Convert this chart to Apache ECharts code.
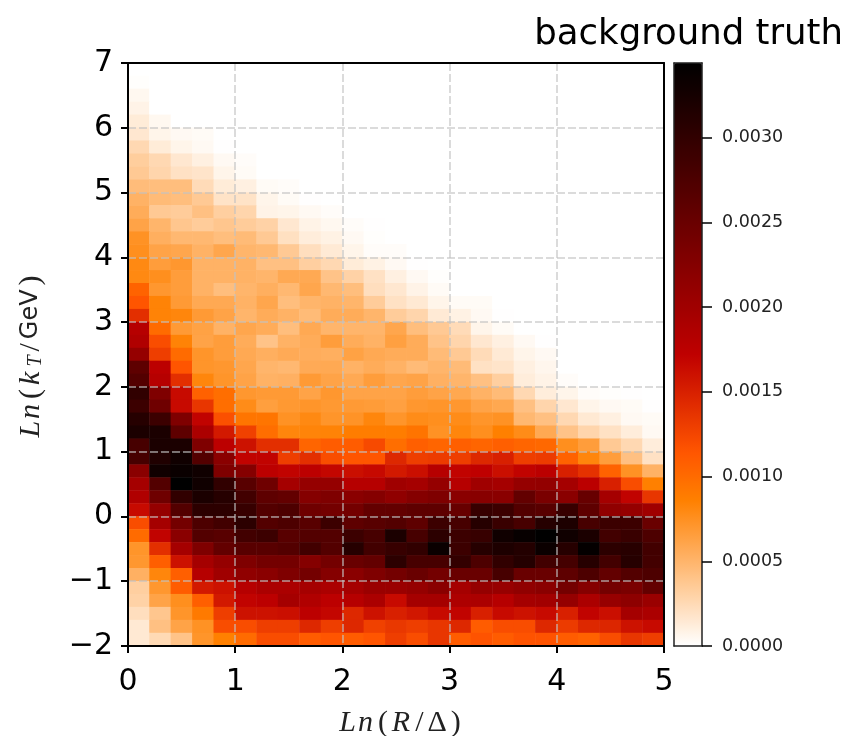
<!DOCTYPE html>
<html>
<head>
<meta charset="utf-8">
<style>html,body{margin:0;padding:0;background:#fff}#c{width:845px;height:736px}</style>
<script src="https://cdn.jsdelivr.net/npm/echarts@6/dist/echarts.min.js"></script>
</head>
<body>
<div id="c"></div>
<script>
const xBins = ['0.0','0.2','0.4','0.6','0.8','1.0','1.2','1.4','1.6','1.8','2.0','2.2','2.4','2.6','2.8','3.0','3.2','3.4','3.6','3.8','4.0','4.2','4.4','4.6','4.8'];
const yBinsTopDown = ['6.8','6.6','6.4','6.2','6.0','5.8','5.6','5.4','5.2','5.0','4.8','4.6','4.4','4.2','4.0','3.8','3.6','3.4','3.2','3.0','2.8','2.6','2.4','2.2','2.0','1.8','1.6','1.4','1.2','1.0','0.8','0.6','0.4','0.2','0.0','-0.2','-0.4','-0.6','-0.8','-1.0','-1.2','-1.4','-1.6','-1.8','-2.0'];
const xTicks = [0,1,2,3,4,5];
const yTicks = [-2,-1,0,1,2,3,4,5,6,7];
const barTicks = [0,0.0005,0.001,0.0015,0.002,0.0025,0.003];
const barMax = 0.00344;
const titleText = 'background truth';
// density per cell, in units of 1e-4; each row runs left to right, rows run top to bottom; omitted cells are empty
const density = [
[],
[0.1],
[0.5],
[0.8],
[1.3,0.5],
[1.6,0.7,0.4,0.3],
[2.6,1.3,0.7,0.4,0.05],
[3.3,2.6,1.6,1.0,0.4,0.2],
[3.6,2.8,2.0,1.8,0.7,0.3],
[4.5,4.4,4.4,2.4,1.3,1.0,0.3,0.2],
[5.2,4.6,4.4,3.6,1.9,1.9,0.7,0.3,0.05],
[5.6,3.6,3.4,4.2,3.2,2.8,0.8,0.7,0.4,0.2],
[6.2,5.0,3.8,3.4,3.8,3.4,3.0,1.6,0.8,0.5,0.2,0.05],
[7.4,5.4,4.8,4.8,4.4,4.6,3.6,2.1,1.2,0.9,0.4,0.1],
[7.6,6.2,6.0,5.2,6.0,5.0,4.8,3.6,2.2,1.4,0.7,0.2,0.2],
[8.0,6.6,7.0,5.2,5.2,5.2,4.2,4.2,3.2,2.6,1.3,0.9,0.4,0.05],
[8.0,7.6,6.6,5.2,5.2,5.2,5.0,5.8,5.8,4.0,3.0,2.0,1.0,0.4,0.1],
[10.5,7.0,6.6,5.2,4.4,5.0,5.4,4.8,6.0,4.8,4.4,2.2,1.6,0.8,0.3],
[11.5,8.4,6.8,5.8,5.8,5.2,6.0,4.4,5.0,5.2,5.0,3.4,2.0,1.5,0.7,0.3,0.3],
[14,8.4,8.2,6.8,6.2,5.0,5.6,5.2,4.6,5.6,5.6,5.0,3.4,2.8,1.4,0.9,0.4,0.05],
[18,10,6.8,6.3,5.2,6.0,5.6,4.4,5.8,5.0,5.0,5.0,6.0,4.4,3.6,2.4,0.7,0.3],
[18.5,12,8.4,6.2,6.6,5.6,4.0,5.2,5.6,6.6,5.6,5.2,6.4,5.6,4.0,2.8,1.6,1.0,0.4,0.05],
[21,13,10,7.2,6.6,5.8,5.4,5.7,5.5,5.4,6.3,5.8,5.6,5.6,4.6,3.6,2.4,1.4,0.7,0.4],
[26,17.5,11.5,7.2,7,6,5,4.8,5.7,5.8,5.2,5.6,5.2,4.6,5,4.6,2,1.8,1,0.6],
[27,18,14,8.2,7.2,6.2,5.2,5.3,6.8,6.2,5.8,6.6,6,6.2,5.3,5,4.2,3.2,1.2,0.8,0.2],
[30,23,16.5,10.7,9.8,7,6.8,6.8,6.2,7,6.2,6.2,6.2,6.6,6.2,5.9,5.2,4.6,2.6,1.2,0.7,0.2,0.1,0.05],
[29,24.5,16.5,13.5,9.8,7.8,6.5,6.9,7.2,6.9,6.8,6.7,6.4,7,7.2,7,6.2,5.9,4.2,2.8,1.6,0.7,0.4,0.3,0.05],
[31,29,23,17,11.8,9.3,9.3,7.4,8,7.2,7.3,8.2,7.2,7.8,7.6,7.8,7.2,7.4,4.8,4.2,2.6,1.5,1,0.4,0.3],
[32,32,26,19,15.5,12.8,9.8,8.2,8.3,8.4,8.8,8.8,8.8,9.4,7.4,8.2,7.6,8.6,7.8,5.8,4,2.8,2,1.2,0.4],
[28,32,32,23,17.5,16,14,14,10.4,11,11,12.2,9.8,10.8,10.4,10.8,10.4,10.8,10.4,10.2,7.6,6.6,3.6,2.6,1.2],
[28,31.5,33,27,22,17,17,13,14,12,11.5,11.5,14.5,13,13.2,13,14.5,15,13,13.2,10.6,8.2,6.6,4.2,2],
[22,33,33.5,33,23,22.5,17.5,17,17.5,16.8,16.2,16.6,15.5,16.2,18,17,17.2,16.2,17,17.6,15,13.8,10.6,7.4,5.2],
[19.5,27,34.4,33,30,26.5,24.5,19.5,21,21,18,18,20,19.5,21,18,20,19.5,21,21.2,19.5,17.6,15,12,8.6],
[18.5,24.5,30,32,31,28.5,26,25.5,22.5,23,22,22.5,21.5,22.5,23,22,22.2,22,25.5,23.5,22,25.2,19.5,17,13.5],
[16.5,21,27,30.5,30.5,29.5,27,27.5,24.5,24,24,25.5,25.5,26,26,25.2,29.5,29,27,26.5,29.5,26,21.5,21,20],
[12,19.5,24,27.5,28.5,30.5,27,27.5,26.5,29,26,26.5,27,26,29,28,31,29.3,28,31,31.8,28,29,29,25],
[10,17,22,27,26.5,28.5,29,26.5,27,27,29,28,32,28,30.5,29,29.5,33,33.8,34.4,33,32,28.5,29.3,27.5],
[7.2,14,19.5,23,25.5,26.5,26.5,27,28.5,27,31,28.5,29.5,30,33.5,29,31,31.8,31.3,33.4,31,34,30.5,30.8,28.5],
[7,10.8,16,19.5,21,23,24,24,22.5,24,25,25.5,30.5,28,28,29.8,27.5,30,31.2,28.5,28.2,31,28.4,31,28.4],
[5.3,8.2,10.8,18,20,21.5,22,23,24,22.5,22,23,24,25,24,25,25,28,25,25,26,27.5,25.5,27,27.5],
[3.2,7,11,15.5,16,18,19,19,19.5,19,19.5,20.5,20.5,21,22,19.5,21,20.8,21.5,22,24,22.5,24,23.5,25.5],
[3,6.2,7.6,10.8,15.5,17,17.5,19.5,18.5,17.5,18,19,16.5,19.5,19.5,18.8,19,18,19.5,19.8,21,19,20.8,21.6,20.5],
[2.2,3.8,7.2,9,13,16,16,16.2,17.5,16.8,14.5,16,15,15.6,16.5,17,15,16.5,16,16.5,15,17,16.2,19.5,19],
[1.5,4.2,6.2,7.4,12,12,13,13,14.5,13,14.5,12.8,13.4,13,13.5,14.5,11,12,12,14.5,13.2,14.5,14.6,16,16.5],
[1.5,2.5,4,7.2,8.6,10,12,12,11,11.5,11,11.5,13,12,13.5,11,11.6,11,11.6,11.6,11,10.6,12,13.5,13]
];
const rampColors = ['#ffffff','#ffd4aa','#ffaa55','#ff8000','#ff5500','#df2a00','#bf0000','#9f0000','#800000','#600000','#400000','#200000','#000000'];

const cells = [];
density.forEach((row, r) => {
  xBins.forEach((_, c) => {
    cells.push([c, yBinsTopDown.length - 1 - r, (row[c] || 0) * 1e-4]);
  });
});
const yBins = yBinsTopDown.slice().reverse();
const minusFix = v => String(v).replace('-', '\u2212');
const ink = '#000';
const gridLine = { show: true, lineStyle: { color: 'rgba(195,195,195,0.78)', width: 1.5, type: [8, 3] } };
const spineOnly = {
  axisLine: { show: true, onZero: false, lineStyle: { color: ink, width: 2 } },
  axisTick: { show: false }, axisLabel: { show: false }, splitLine: { show: false }
};
const mathRich = {
  f: { fontFamily: 'Liberation Serif', fontStyle: 'italic', fontSize: 30, color: '#222', padding: [0, 2, 0, 12] },
  l: { fontFamily: 'Liberation Serif', fontStyle: 'italic', fontSize: 30, color: '#222', padding: [0, 2, 0, 0] },
  i: { fontFamily: 'Liberation Serif', fontStyle: 'italic', fontSize: 30, color: '#222', padding: [0, 5, 0, 0] },
  r: { fontFamily: 'Liberation Serif', fontSize: 30, color: '#222', padding: [0, 4, 0, 0] },
  s: { fontFamily: 'Liberation Serif', fontStyle: 'italic', fontSize: 20, color: '#222', verticalAlign: 'bottom', padding: [8, 4, 0, 0] },
  u: { fontFamily: 'DejaVu Sans', fontSize: 24, color: '#222', padding: [0, 4, 0, 0] }
};

const option = {
  animation: false,
  backgroundColor: '#fff',
  textStyle: { fontFamily: 'DejaVu Sans', color: ink },
  title: {
    text: titleText, right: 2, top: 17, padding: 0,
    textStyle: { fontFamily: 'DejaVu Sans', fontSize: 35.5, fontWeight: 'normal', color: ink }
  },
  grid: [
    { left: 128, top: 63, width: 536, height: 583, show: false, outerBoundsMode: 'none' },
    { left: 674, top: 63, width: 28, height: 583, show: false, outerBoundsMode: 'none' }
  ],
  xAxis: [
    { type: 'category', gridIndex: 0, data: xBins, show: false },
    { type: 'value', gridIndex: 0, min: 0, max: 5, interval: 1, position: 'bottom', z: 6,
      axisLine: { show: true, onZero: false, lineStyle: { color: ink, width: 2 } },
      axisTick: { show: true, length: 7, lineStyle: { color: ink, width: 2 } },
      axisLabel: { show: true, color: ink, fontSize: 30, margin: 21, fontFamily: 'DejaVu Sans',
        customValues: xTicks, hideOverlap: false },
      splitLine: gridLine,
      name: '{f|L}{i|n}{r|(}{i|R}{r|/}{r|\u0394}{r|)}', nameLocation: 'middle', nameGap: 62,
      nameTextStyle: { rich: mathRich }
    },
    { type: 'value', gridIndex: 0, min: 0, max: 5, position: 'top', z: 6, ...spineOnly },
    { type: 'value', gridIndex: 1, min: 0, max: 1, position: 'bottom', z: 6, ...spineOnly,
      axisLine: { show: true, onZero: false, lineStyle: { color: '#222', width: 1.5 } } },
    { type: 'value', gridIndex: 1, min: 0, max: 1, position: 'top', z: 6, ...spineOnly,
      axisLine: { show: true, onZero: false, lineStyle: { color: '#222', width: 1.5 } } }
  ],
  yAxis: [
    { type: 'category', gridIndex: 0, data: yBins, show: false },
    { type: 'value', gridIndex: 0, min: -2, max: 7, interval: 1, position: 'left', z: 6,
      axisLine: { show: true, onZero: false, lineStyle: { color: ink, width: 2 } },
      axisTick: { show: true, length: 7, lineStyle: { color: ink, width: 2 } },
      axisLabel: { show: true, color: ink, fontSize: 30, margin: 15, padding: [6, 0, 0, 0], fontFamily: 'DejaVu Sans',
        formatter: minusFix, customValues: yTicks, hideOverlap: false },
      splitLine: gridLine,
      name: '{l|L}{i|n}{r|(}{i|k}{s|T}{r|/}{u|GeV}{r|)}', nameLocation: 'middle', nameGap: 82, nameRotate: 90,
      nameTextStyle: { rich: mathRich }
    },
    { type: 'value', gridIndex: 0, min: -2, max: 7, position: 'right', z: 6, ...spineOnly },
    { type: 'value', gridIndex: 1, min: 0, max: barMax, position: 'right', z: 6,
      axisLine: { show: true, onZero: false, lineStyle: { color: '#222', width: 1.5 } },
      axisTick: { show: true, length: 10, customValues: barTicks, lineStyle: { color: ink, width: 1.5 } },
      axisLabel: { show: true, color: '#222', fontSize: 17.5, margin: 20, padding: [2, 0, 0, 0], fontFamily: 'DejaVu Sans',
        customValues: barTicks, formatter: v => v.toFixed(4), hideOverlap: false },
      splitLine: { show: false }
    },
    { type: 'value', gridIndex: 1, min: 0, max: barMax, position: 'left', z: 6, ...spineOnly,
      axisLine: { show: true, onZero: false, lineStyle: { color: '#222', width: 1.5 } } }
  ],
  visualMap: {
    type: 'continuous', seriesIndex: 0, min: 0, max: barMax,
    left: 674, top: 63, itemWidth: 28, itemHeight: 583, padding: 0,
    calculable: false, hoverLink: false, text: null,
    inRange: { color: rampColors }
  },
  series: [{
    type: 'heatmap', xAxisIndex: 0, yAxisIndex: 0, z: 1,
    data: cells, itemStyle: { borderWidth: 0 }, emphasis: { disabled: true }, silent: true, progressive: 0
  }]
};
const chart = echarts.init(document.getElementById('c'), null, { renderer: 'canvas' });
chart.setOption(option);
</script>
</body>
</html>
